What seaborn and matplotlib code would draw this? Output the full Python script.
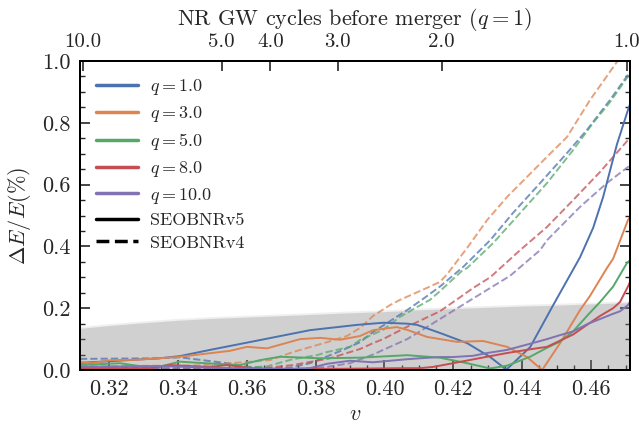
import numpy as np
import pandas as pd
import matplotlib
matplotlib.use("Agg")
import matplotlib.pyplot as plt
import seaborn as sns
from matplotlib.lines import Line2D
from matplotlib.ticker import MultipleLocator, FormatStrFormatter

sns.set_theme(style="ticks", palette="deep")
plt.rcParams.update({
    "font.family": "serif",
    "font.serif": ["cmr10", "DejaVu Serif"],
    "mathtext.fontset": "cm",
    "axes.formatter.use_mathtext": True,
    "axes.unicode_minus": False,
})

# ---------------- data ----------------
q_labels = ["1.0", "3.0", "5.0", "8.0", "10.0"]
colors = sns.color_palette("deep", 5)

# SEOBNRv5 (solid)
v5_q1_v = [0.3116, 0.3348, 0.3406, 0.3493, 0.3639, 0.3784, 0.3920, 0.3996, 0.4066, 0.4095, 0.4161, 0.4240, 0.4307, 0.4344, 0.4353, 0.4423, 0.4490, 0.4568, 0.4606, 0.4635, 0.4675, 0.4707, 0.4713]
v5_q1_y = [0.023, 0.038, 0.045, 0.065, 0.097, 0.129, 0.146, 0.153, 0.150, 0.146, 0.120, 0.087, 0.042, 0.010, 0.000, 0.074, 0.210, 0.365, 0.460, 0.560, 0.730, 0.841, 0.860]

v5_q3_v = [0.3116, 0.3148, 0.3206, 0.3276, 0.3400, 0.3551, 0.3601, 0.3659, 0.3755, 0.3813, 0.3871, 0.3929, 0.3967, 0.4036, 0.4066, 0.4124, 0.4211, 0.4286, 0.4356, 0.4414, 0.4458, 0.4510, 0.4568, 0.4597, 0.4646, 0.4664, 0.4707, 0.4713]
v5_q3_y = [0.026, 0.022, 0.032, 0.033, 0.042, 0.062, 0.075, 0.070, 0.100, 0.104, 0.098, 0.110, 0.129, 0.139, 0.130, 0.107, 0.091, 0.094, 0.075, 0.042, 0.000, 0.087, 0.194, 0.240, 0.330, 0.360, 0.485, 0.495]

v5_q5_v = [0.3116, 0.3232, 0.3299, 0.3348, 0.3406, 0.3464, 0.3580, 0.3639, 0.3697, 0.3813, 0.3929, 0.4066, 0.4161, 0.4240, 0.4307, 0.4356, 0.4423, 0.4472, 0.4510, 0.4548, 0.4588, 0.4626, 0.4664, 0.4704, 0.4713]
v5_q5_y = [0.016, 0.022, 0.011, 0.011, 0.027, 0.023, 0.016, 0.032, 0.043, 0.038, 0.040, 0.048, 0.040, 0.022, 0.005, 0.014, 0.043, 0.072, 0.092, 0.125, 0.175, 0.220, 0.270, 0.346, 0.355]

v5_q8_v = [0.3116, 0.3319, 0.3377, 0.3450, 0.3493, 0.3543, 0.3639, 0.3871, 0.4066, 0.4103, 0.4141, 0.4199, 0.4298, 0.4356, 0.4423, 0.4472, 0.4510, 0.4548, 0.4588, 0.4626, 0.4664, 0.4684, 0.4707, 0.4713]
v5_q8_y = [0.006, 0.006, 0.016, 0.012, 0.010, 0.016, 0.003, 0.004, 0.006, 0.006, 0.010, 0.022, 0.043, 0.055, 0.067, 0.075, 0.095, 0.115, 0.146, 0.175, 0.200, 0.220, 0.270, 0.285]

v5_q10_v = [0.3116, 0.3348, 0.3543, 0.3734, 0.3784, 0.3833, 0.3900, 0.3967, 0.4066, 0.4103, 0.4161, 0.4199, 0.4257, 0.4298, 0.4356, 0.4423, 0.4472, 0.4510, 0.4548, 0.4588, 0.4626, 0.4664, 0.4684, 0.4707, 0.4713]
v5_q10_y = [0.010, 0.013, 0.006, 0.004, 0.006, 0.020, 0.030, 0.025, 0.035, 0.038, 0.042, 0.042, 0.046, 0.055, 0.065, 0.085, 0.100, 0.113, 0.125, 0.148, 0.165, 0.182, 0.190, 0.210, 0.220]

# SEOBNRv4 (dashed)
v4_q1_v = [0.3116, 0.3348, 0.3406, 0.3464, 0.3543, 0.3601, 0.3659, 0.3726, 0.3784, 0.3880, 0.3929, 0.3967, 0.4066, 0.4112, 0.4161, 0.4228, 0.4307, 0.4373, 0.4452, 0.4530, 0.4588, 0.4655, 0.4707, 0.4713]
v4_q1_y = [0.036, 0.038, 0.041, 0.033, 0.022, 0.011, 0.006, 0.008, 0.022, 0.065, 0.090, 0.123, 0.194, 0.230, 0.270, 0.333, 0.420, 0.508, 0.605, 0.702, 0.777, 0.874, 0.955, 0.962]

v4_q3_v = [0.3116, 0.3464, 0.3601, 0.3668, 0.3734, 0.3833, 0.3891, 0.3929, 0.3967, 0.4016, 0.4045, 0.4112, 0.4161, 0.4182, 0.4240, 0.4298, 0.4356, 0.4414, 0.4472, 0.4530, 0.4597, 0.4675, 0.4713]
v4_q3_y = [0.012, 0.015, 0.026, 0.032, 0.058, 0.090, 0.110, 0.136, 0.175, 0.210, 0.227, 0.260, 0.285, 0.310, 0.395, 0.485, 0.560, 0.625, 0.690, 0.754, 0.874, 0.997, 1.060]

v4_q5_v = [0.3116, 0.3464, 0.3601, 0.3659, 0.3734, 0.3804, 0.3833, 0.3900, 0.3929, 0.3996, 0.4045, 0.4095, 0.4132, 0.4161, 0.4228, 0.4240, 0.4315, 0.4394, 0.4472, 0.4548, 0.4606, 0.4655, 0.4707, 0.4713]
v4_q5_y = [0.008, 0.005, 0.008, 0.012, 0.035, 0.048, 0.058, 0.075, 0.097, 0.130, 0.172, 0.204, 0.227, 0.255, 0.324, 0.330, 0.410, 0.508, 0.605, 0.712, 0.800, 0.867, 0.950, 0.958]

v4_q8_v = [0.3116, 0.3639, 0.3734, 0.3842, 0.3929, 0.3967, 0.3996, 0.4066, 0.4161, 0.4219, 0.4257, 0.4307, 0.4394, 0.4472, 0.4548, 0.4626, 0.4707, 0.4713]
v4_q8_y = [0.005, 0.005, 0.016, 0.038, 0.068, 0.087, 0.100, 0.140, 0.190, 0.235, 0.265, 0.300, 0.388, 0.463, 0.550, 0.641, 0.744, 0.752]

v4_q10_v = [0.3116, 0.3755, 0.3833, 0.3900, 0.3967, 0.3996, 0.4066, 0.4103, 0.4161, 0.4248, 0.4365, 0.4452, 0.4472, 0.4568, 0.4646, 0.4707, 0.4713]
v4_q10_y = [0.004, 0.004, 0.010, 0.022, 0.050, 0.065, 0.100, 0.125, 0.165, 0.225, 0.305, 0.388, 0.420, 0.528, 0.605, 0.657, 0.663]

# grey band (NR error)
band_v = [0.3116, 0.3200, 0.3300, 0.3400, 0.3500, 0.3633, 0.3750, 0.3871, 0.4000, 0.4103, 0.4200, 0.4300, 0.4400, 0.4500, 0.4600, 0.4713]
band_hi = [0.135, 0.144, 0.153, 0.161, 0.167, 0.173, 0.178, 0.184, 0.189, 0.195, 0.199, 0.203, 0.207, 0.210, 0.214, 0.218]

# top axis: NR GW cycles before merger (q=1)
cycle_labels = ["10.0", "5.0", "4.0", "3.0", "2.0", "1.0"]
cycle_v = [0.3124, 0.3527, 0.3669, 0.3864, 0.4166, 0.4704]

# ---------------- build table ----------------
series = {
    ("v5", "1.0"): (v5_q1_v, v5_q1_y), ("v5", "3.0"): (v5_q3_v, v5_q3_y),
    ("v5", "5.0"): (v5_q5_v, v5_q5_y), ("v5", "8.0"): (v5_q8_v, v5_q8_y),
    ("v5", "10.0"): (v5_q10_v, v5_q10_y),
    ("v4", "1.0"): (v4_q1_v, v4_q1_y), ("v4", "3.0"): (v4_q3_v, v4_q3_y),
    ("v4", "5.0"): (v4_q5_v, v4_q5_y), ("v4", "8.0"): (v4_q8_v, v4_q8_y),
    ("v4", "10.0"): (v4_q10_v, v4_q10_y),
}
rows = []
for (model, q), (xs, ys) in series.items():
    for x, y in zip(xs, ys):
        rows.append({"model": model, "q": q, "v": x, "dE": y})
df = pd.DataFrame(rows)
pal = dict(zip(q_labels, colors))

# ---------------- plot ----------------
fig = plt.figure(figsize=(6.39, 4.30), dpi=100)
ax = fig.add_axes([0.1252, 0.1395, 0.8607, 0.7186])

ax.fill_between(band_v, 0, np.array(band_hi) + 0.006, color="0.5", alpha=0.12, lw=0)
ax.fill_between(band_v, 0, band_hi, color="0.5", alpha=0.27, lw=0)

sns.lineplot(data=df[df.model == "v4"], x="v", y="dE", hue="q", hue_order=q_labels,
             palette=pal, estimator=None, sort=True, lw=1.4, alpha=0.75,
             linestyle="--", legend=False, ax=ax)
sns.lineplot(data=df[df.model == "v5"], x="v", y="dE", hue="q", hue_order=q_labels,
             palette=pal, estimator=None, sort=True, lw=1.4, legend=False, ax=ax)

ax.set_xlim(0.3116, 0.4713)
ax.set_ylim(0.0, 1.0)
ax.set_xlabel(r"$v$", fontsize=16, labelpad=4)
ax.set_ylabel(r"$\Delta E/E(\%)$", fontsize=16, labelpad=6)

ax.xaxis.set_major_locator(MultipleLocator(0.02))
ax.xaxis.set_minor_locator(MultipleLocator(0.005))
ax.xaxis.set_major_formatter(FormatStrFormatter("%.2f"))
ax.yaxis.set_major_locator(MultipleLocator(0.2))
ax.yaxis.set_minor_locator(MultipleLocator(0.05))
ax.yaxis.set_major_formatter(FormatStrFormatter("%.1f"))

ax.tick_params(which="both", direction="in", top=False, right=True, labelsize=16)
ax.tick_params(which="major", length=7, width=1.2, pad=7)
ax.tick_params(which="minor", length=3.5, width=1.0)
for s in ax.spines.values():
    s.set_linewidth(1.4)
    s.set_color("black")

ax2 = ax.twiny()
ax2.set_xlim(ax.get_xlim())
ax2.set_xticks(cycle_v)
ax2.set_xticklabels(cycle_labels)
ax2.xaxis.set_minor_locator(plt.NullLocator())
ax2.tick_params(which="both", direction="in", labelsize=15, length=7, width=1.2, pad=7)
ax2.set_xlabel(r"NR GW cycles before merger ($q=1$)", fontsize=16, labelpad=6)
for s in ax2.spines.values():
    s.set_linewidth(1.4)
    s.set_color("black")

handles = [Line2D([], [], color=c, lw=2.5) for c in colors]
handles += [Line2D([], [], color="black", lw=2.5, ls="-"),
            Line2D([], [], color="black", lw=2.5, ls="--")]
labels = [rf"$q={q}$" for q in q_labels] + ["SEOBNRv5", "SEOBNRv4"]
ax.legend(handles, labels, loc="upper left", frameon=False, fontsize=13,
          handlelength=2.3, handletextpad=0.65, labelspacing=0.38)

fig.savefig("out.png", dpi=100)
